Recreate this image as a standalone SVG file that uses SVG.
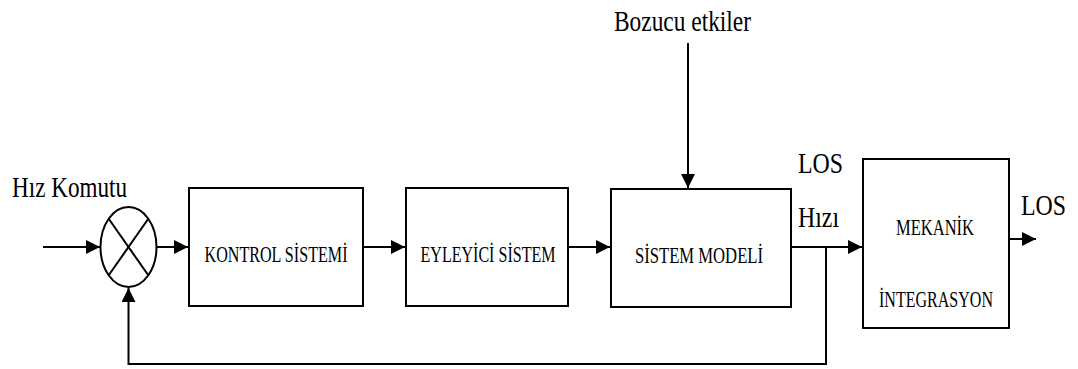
<svg xmlns="http://www.w3.org/2000/svg" width="1078" height="369" viewBox="0 0 1078 369" font-family="Liberation Serif, Times New Roman, serif">
  <style>
    .box { fill: #ffffff; stroke: #000000; stroke-width: 2; }
    .wire { fill: none; stroke: #000000; stroke-width: 2; }
    text { font-family: "Liberation Serif", "Times New Roman", serif; fill: #000000; }
    .inner { font-size: 24px; text-anchor: middle; }
    .big { font-size: 30px; }
  </style>
  <defs>
    <marker id="arrow" markerUnits="userSpaceOnUse" markerWidth="14" markerHeight="14" refX="14" refY="7" orient="auto">
      <path d="M0,0 L14,7 L0,14 Z" fill="#000000"/>
    </marker>
  </defs>

  <rect width="1078" height="369" fill="#ffffff"/>

  <!-- summing junction -->
  <g id="sum">
    <ellipse class="box" cx="128.5" cy="247" rx="28" ry="40"/>
    <line class="wire" x1="108.7" y1="218.7" x2="148.3" y2="275.3"/>
    <line class="wire" x1="148.3" y1="218.7" x2="108.7" y2="275.3"/>
  </g>

  <g id="kontrol">
    <rect class="box" x="189" y="188" width="174" height="118"/>
    <text class="inner" x="276" y="262" textLength="143" lengthAdjust="spacingAndGlyphs">KONTROL SİSTEMİ</text>
  </g>

  <g id="eyleyici">
    <rect class="box" x="406" y="188" width="162" height="118"/>
    <text class="inner" x="488" y="262" textLength="135" lengthAdjust="spacingAndGlyphs">EYLEYİCİ SİSTEM</text>
  </g>

  <g id="model">
    <rect class="box" x="611" y="189" width="180" height="118"/>
    <text class="inner" x="699" y="263" textLength="128" lengthAdjust="spacingAndGlyphs">SİSTEM MODELİ</text>
  </g>

  <g id="mekanik">
    <rect class="box" x="863" y="159" width="146" height="169"/>
    <text class="inner" x="935" y="235" textLength="78" lengthAdjust="spacingAndGlyphs">MEKANİK</text>
    <text class="inner" x="936" y="307" textLength="114" lengthAdjust="spacingAndGlyphs">İNTEGRASYON</text>
  </g>

  <!-- signal labels -->
  <g id="labels">
    <text class="big" x="12" y="197" textLength="115" lengthAdjust="spacingAndGlyphs">Hız Komutu</text>
    <text class="big" x="614" y="31" textLength="137" lengthAdjust="spacingAndGlyphs">Bozucu etkiler</text>
    <text class="big" x="798" y="173" textLength="45" lengthAdjust="spacingAndGlyphs">LOS</text>
    <text class="big" x="798" y="227" textLength="41" lengthAdjust="spacingAndGlyphs">Hızı</text>
    <text class="big" x="1021" y="215" textLength="45" lengthAdjust="spacingAndGlyphs">LOS</text>
  </g>

  <!-- connectors -->
  <g id="connectors">
    <line class="wire" x1="43" y1="247" x2="100" y2="247" marker-end="url(#arrow)"/>
    <line class="wire" x1="157" y1="247" x2="188" y2="247" marker-end="url(#arrow)"/>
    <line class="wire" x1="363" y1="247" x2="405" y2="247" marker-end="url(#arrow)"/>
    <line class="wire" x1="568" y1="247" x2="610" y2="247" marker-end="url(#arrow)"/>
    <line class="wire" x1="688" y1="43" x2="688" y2="188" marker-end="url(#arrow)"/>
    <line class="wire" x1="791" y1="247" x2="862" y2="247" marker-end="url(#arrow)"/>
    <line class="wire" x1="1009" y1="239" x2="1036" y2="239" marker-end="url(#arrow)"/>
    <path class="wire" d="M826,247 V364 H128.5 V288" marker-end="url(#arrow)"/>
  </g>
</svg>
